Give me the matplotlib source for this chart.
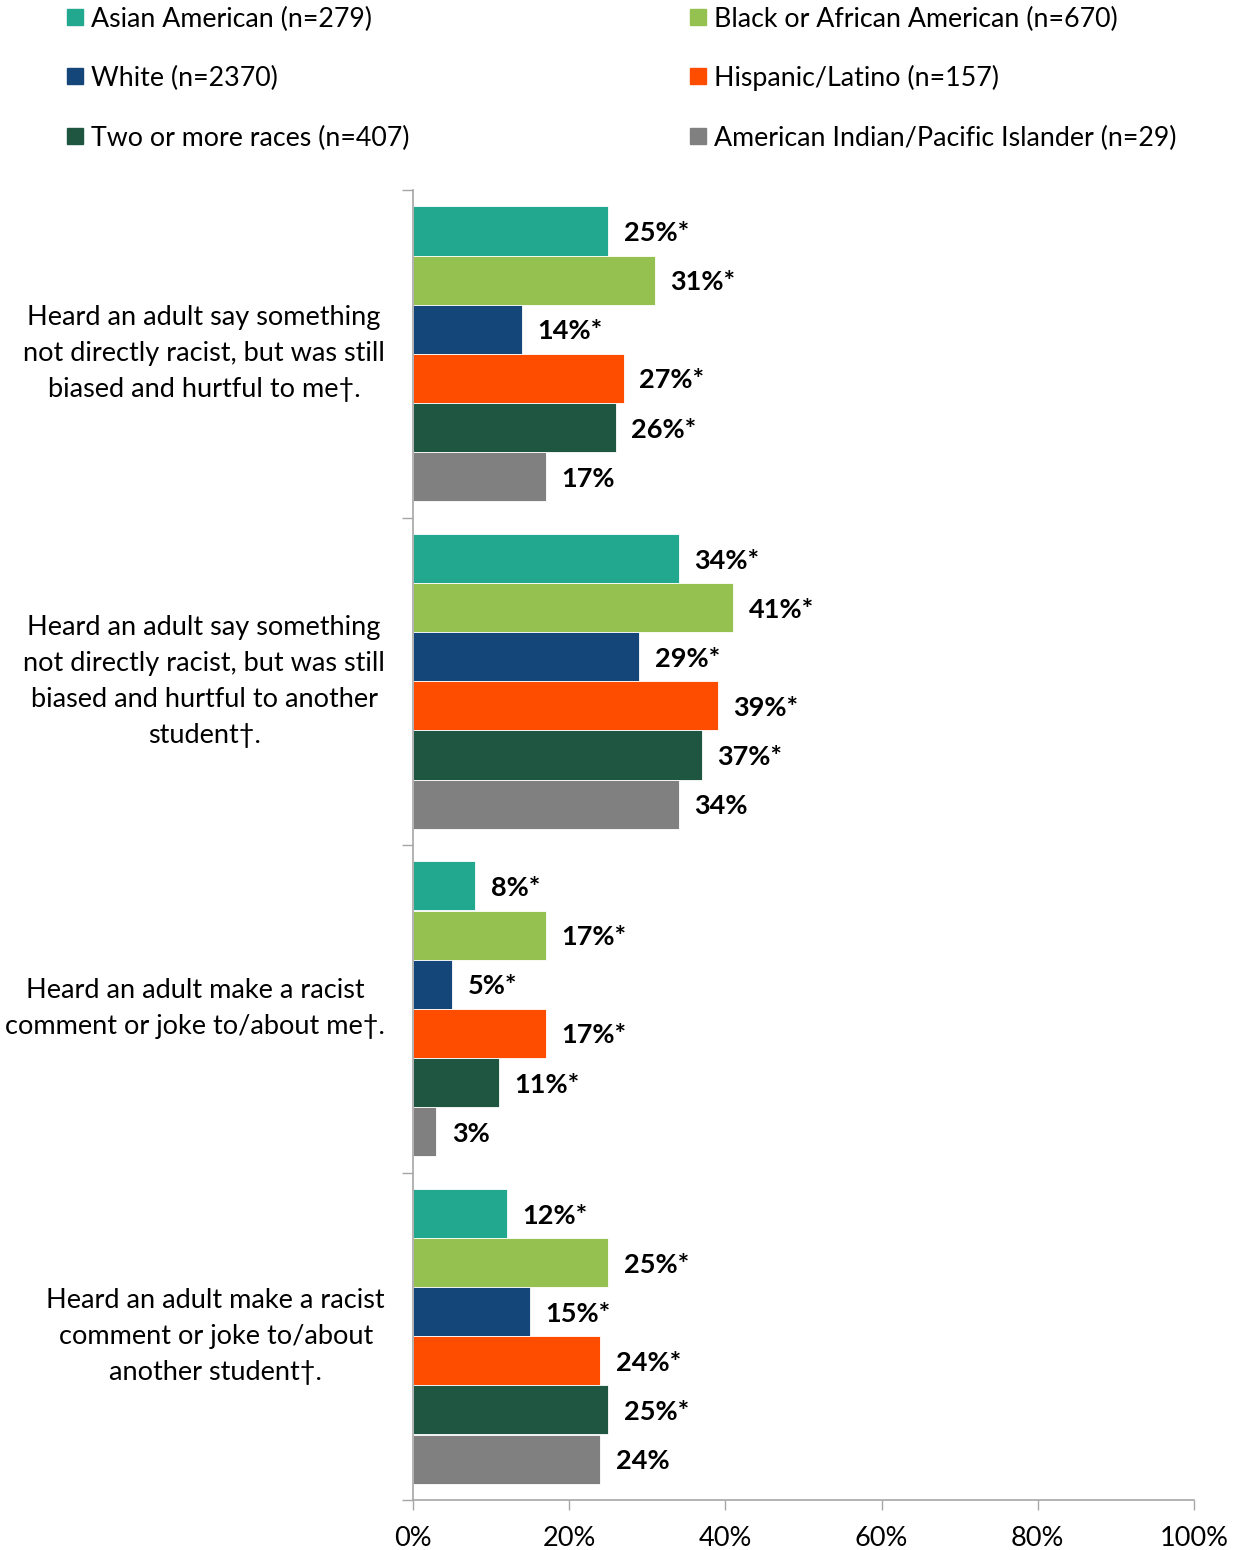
import matplotlib
matplotlib.use("Agg")
import matplotlib.pyplot as plt
from matplotlib.patches import Rectangle
from matplotlib.ticker import FixedLocator, FuncFormatter

plt.rcParams['font.family'] = ['Lato', 'DejaVu Sans']

# survey items (one band per item)
categories = [
    "Heard an adult say something\nnot directly racist, but was still\nbiased and hurtful to me\u2020.",
    "Heard an adult say something\nnot directly racist, but was still\nbiased and hurtful to another\nstudent\u2020.",
    "Heard an adult make a racist\ncomment or joke to/about me\u2020.",
    "Heard an adult make a racist\ncomment or joke to/about\nanother student\u2020.",
]

groups = [
    "Asian American (n=279)",
    "Black or African American (n=670)",
    "White (n=2370)",
    "Hispanic/Latino (n=157)",
    "Two or more races (n=407)",
    "American Indian/Pacific Islander (n=29)",
]
colors = ["#23A890", "#94C150", "#15467A", "#FF4D00", "#1F5642", "#808080"]

# percent per group, one list per item
values = [
    [25, 31, 14, 27, 26, 17],
    [34, 41, 29, 39, 37, 34],
    [8, 17, 5, 17, 11, 3],
    [12, 25, 15, 24, 25, 24],
]
# significance marker per group
stars = ["*", "*", "*", "*", "*", ""]

W, H = 1233, 1550
fig = plt.figure(figsize=(W / 100, H / 100), dpi=100)
ax = fig.add_axes([413 / W, (H - 1500) / H, 781 / W, 1310 / H])

bar_h = 0.15
for i, row in enumerate(values):
    for j, v in enumerate(row):
        y = i + 0.05 + bar_h * (j + 0.5)
        ax.barh(y, v, height=bar_h, color=colors[j], edgecolor="white", linewidth=0.6)
        ax.annotate(f"{v}%{stars[j]}", xy=(v, y), xytext=(11, -1.5),
                    textcoords="offset points", va="center", ha="left",
                    fontsize=19.5, fontweight="bold", color="black")
    ax.text(-28 / 7.81, i + 0.5, categories[i], ha="right", va="center",
            multialignment="center", fontsize=19.5, linespacing=1.55)

ax.set_xlim(0, 100)
ax.set_ylim(4, 0)
ax.xaxis.set_major_locator(FixedLocator([0, 20, 40, 60, 80, 100]))
ax.xaxis.set_major_formatter(FuncFormatter(lambda x, _: f"{x:.0f}%"))
ax.tick_params(axis="x", length=7, width=1, color="#A6A6A6", direction="out",
               pad=12, labelsize=19.5)
ax.yaxis.set_major_locator(FixedLocator([0, 1, 2, 3, 4]))
ax.tick_params(axis="y", length=8, width=1, color="#A6A6A6", direction="out",
               labelleft=False)
for s in ["top", "right"]:
    ax.spines[s].set_visible(False)
for s in ["left", "bottom"]:
    ax.spines[s].set_color("#A6A6A6")
    ax.spines[s].set_linewidth(1.2)

# legend in two columns, drawn by hand
legend_cols = [67, 690]
legend_rows = [17, 76, 136]
order = [0, 2, 4, 1, 3, 5]
for k, g in enumerate(order):
    x0 = legend_cols[k // 3]
    yc = legend_rows[k % 3]
    fig.patches.append(Rectangle((x0 / W, (H - yc - 8) / H), 16 / W, 16 / H,
                                 transform=fig.transFigure, color=colors[g]))
    fig.text((x0 + 24) / W, (H - yc - 2) / H, groups[g], ha="left", va="center",
             fontsize=19.3)

fig.savefig("out.png", dpi=100)
